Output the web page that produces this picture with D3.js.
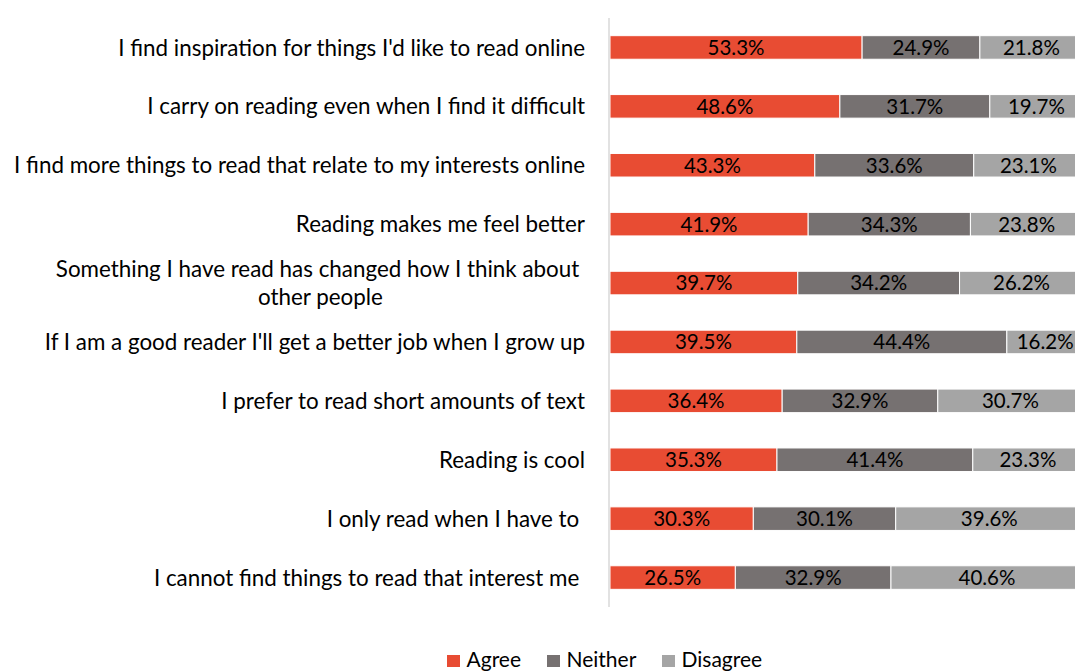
<!DOCTYPE html>
<html>
<head>
<meta charset="utf-8">
<title>Reading attitudes</title>
<style>
  body {margin: 0; background: #fff;}
  svg text {font-family: Lato, "Open Sans", sans-serif; white-space: pre;}
</style>
</head>
<body>
<svg id="chart" width="1075" height="671"></svg>
<script src="https://d3js.org/d3.v7.min.js"></script>
<script>
// statements, top to bottom
var statements = [
  "I find inspiration for things I'd like to read online",
  "I carry on reading even when I find it difficult",
  "I find more things to read that relate to my interests online",
  "Reading makes me feel better",
  "Something I have read has changed how I think about \nother people",
  "If I am a good reader I'll get a better job when I grow up",
  "I prefer to read short amounts of text",
  "Reading is cool",
  "I only read when I have to ",
  "I cannot find things to read that interest me "
];
var agree    = [53.3, 48.6, 43.3, 41.9, 39.7, 39.5, 36.4, 35.3, 30.3, 26.5];
var neither  = [24.9, 31.7, 33.6, 34.3, 34.2, 44.4, 32.9, 41.4, 30.1, 32.9];
var disagree = [21.8, 19.7, 23.1, 23.8, 26.2, 16.2, 30.7, 23.3, 39.6, 40.6];
var seriesNames = ["Agree", "Neither", "Disagree"];
var seriesColors = ["#e84c33", "#767171", "#a5a5a5"];

var svg = d3.select("#chart");
var plotLeft = 610, plotTop = 18, plotBottom = 607;

var rows = statements.map(function(s, i){
  return {label: s, Agree: agree[i], Neither: neither[i], Disagree: disagree[i]};
});
var stacked = d3.stack().keys(seriesNames)(rows);

var x = d3.scaleLinear().domain([0, 100]).range([plotLeft, plotLeft + 473]);
var y = d3.scaleBand().domain(statements).range([plotTop, plotBottom]).paddingInner(0.6).paddingOuter(0.3);
var color = d3.scaleOrdinal().domain(seriesNames).range(seriesColors);

// bars
var layers = svg.append("g").selectAll("g").data(stacked).enter().append("g")
  .attr("fill", function(d){ return color(d.key); });

layers.selectAll("rect").data(function(d){ return d; }).enter().append("rect")
  .attr("x", function(d){ return x(d[0]); })
  .attr("y", function(d){ return y(d.data.label); })
  .attr("width", function(d){ return x(d[1]) - x(d[0]); })
  .attr("height", y.bandwidth())
  .attr("stroke", "#fff")
  .attr("stroke-width", 1);

// value labels
layers.selectAll("text").data(function(d){ return d.map(function(p){ return {p: p, key: d.key}; }); })
  .enter().append("text")
  .attr("x", function(d){ return (x(d.p[0]) + x(d.p[1])) / 2; })
  .attr("y", function(d){ return y(d.p.data.label) + y.bandwidth() / 2; })
  .attr("dy", "0.36em")
  .attr("text-anchor", "middle")
  .attr("fill", "#000")
  .style("font-size", "20.5px")
  .text(function(d){ return d3.format(".1f")(d.p[1] - d.p[0]) + "%"; });

// axis line
svg.append("line")
  .attr("x1", plotLeft - 1).attr("x2", plotLeft - 1)
  .attr("y1", plotTop).attr("y2", plotBottom)
  .attr("stroke", "#d9d9d9").attr("stroke-width", 1.5);

// category labels
var labelRight = 585;
var cats = svg.append("g").selectAll("text").data(statements).enter().append("text")
  .style("font-size", "22.4px")
  .attr("fill", "#000");

cats.each(function(s){
  var t = d3.select(this);
  var lines = s.split("\n");
  var cy = y(s) + y.bandwidth() / 2;
  if (lines.length === 1) {
    t.attr("x", labelRight).attr("y", cy).attr("dy", "0.36em")
      .attr("text-anchor", "end").text(s);
  } else {
    t.text(lines[0]);
    var w = this.getComputedTextLength();
    t.text(null);
    var mid = labelRight - w / 2;
    t.attr("text-anchor", "middle");
    lines.forEach(function(line, i){
      t.append("tspan").attr("x", mid)
        .attr("y", cy + (i - (lines.length - 1) / 2) * 28)
        .attr("dy", "0.36em").text(line);
    });
  }
});

// legend
var legendX = [447, 547, 662];
var legend = svg.append("g").selectAll("g").data(seriesNames).enter().append("g")
  .attr("transform", function(d, i){ return "translate(" + legendX[i] + ",655)"; });
legend.append("rect").attr("width", 13).attr("height", 12)
  .attr("fill", function(d){ return color(d); });
legend.append("text").attr("x", 19.5).attr("y", 12)
  .style("font-size", "21px").attr("fill", "#000")
  .text(function(d){ return d; });
</script>
</body>
</html>
